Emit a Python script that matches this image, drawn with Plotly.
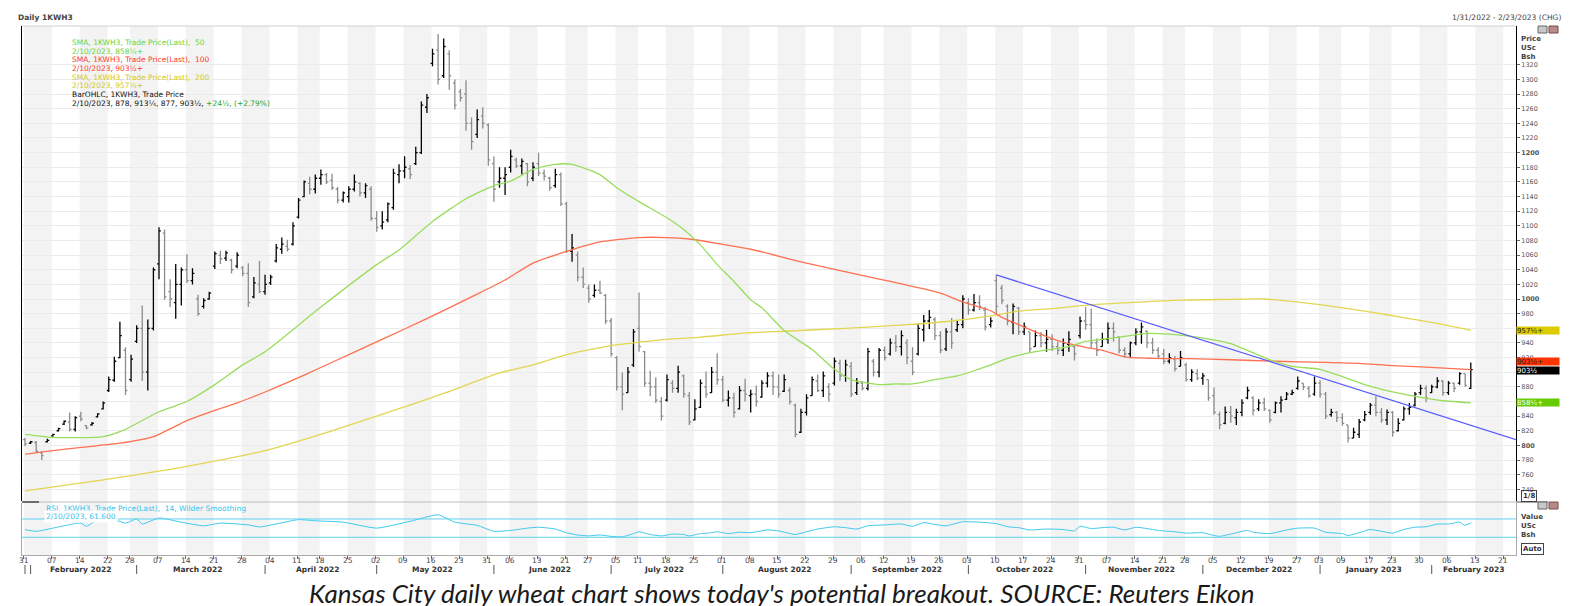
import numpy as np
import pandas as pd
import plotly.graph_objects as go

# ---- trading calendar (exchange holidays removed) ----
holidays = ["2022-02-21", "2022-04-15", "2022-05-30", "2022-06-20", "2022-07-04",
            "2022-09-05", "2022-11-24", "2022-12-26", "2023-01-02", "2023-01-16",
            "2023-02-20"]
days = pd.bdate_range("2022-01-31", "2023-02-28", freq="C", holidays=holidays)

# ---- daily OHLC, 1KWH3, 31 Jan 2022 .. 10 Feb 2023 (USc/bu) ----
opens = [
    808, 803, 804, 790, 805, 813, 820, 829, 832, 822,
    840, 827, 828, 839, 850, 875, 889, 920, 930, 890,
    942, 960, 900, 960, 1048, 1090, 1010, 995, 1020, 1040,
    1025, 1000, 990, 1000, 1045, 1060, 1056, 1053, 1045, 1043,
    1035, 1003, 1020, 1010, 1022, 1052, 1068, 1072, 1075, 1112,
    1140, 1158, 1150, 1165, 1170, 1162, 1150, 1135, 1140, 1150,
    1158, 1145, 1150, 1110, 1100, 1108, 1125, 1170, 1175, 1178,
    1185, 1200, 1262, 1322, 1340, 1305, 1335, 1295, 1283, 1280,
    1240, 1225, 1250, 1238, 1185, 1160, 1165, 1180, 1190, 1182,
    1185, 1165, 1185, 1172, 1165, 1155, 1170, 1130, 1065, 1060,
    1030, 1015, 1005, 1012, 1005, 970, 920, 880, 872, 910,
    960, 928, 885, 880, 860, 862, 885, 878, 895, 868,
    835, 852, 880, 872, 900, 890, 862, 865, 850, 875,
    868, 870, 866, 885, 895, 880, 874, 875, 855, 818,
    845, 868, 888, 875, 880, 885, 912, 895, 908, 872,
    885, 878, 915, 900, 930, 925, 940, 935, 940, 915,
    925, 958, 970, 972, 950, 932, 955, 958, 965, 995,
    985, 995, 985, 965, 1025, 1015, 990, 968, 988, 955,
    955, 935, 950, 940, 945, 935, 930, 938, 935, 950,
    970, 965, 940, 935, 945, 960, 948, 930, 925, 940,
    955, 956, 940, 930, 925, 915, 918, 908, 910, 890,
    898, 892, 890, 868, 842, 830, 845, 838, 845, 865,
    865, 850, 858, 848, 845, 858, 863, 870, 878, 885,
    878, 870, 885, 870, 842, 845, 838, 828, 810, 815,
    835, 845, 855, 845, 835, 845, 820, 835, 850, 855,
    872, 878, 872, 880, 888, 872, 885, 885, 898, 878,
]
highs = [
    810, 806, 806, 792, 809, 816, 824, 834, 845, 840,
    846, 828, 832, 844, 860, 894, 921, 969, 934, 924,
    964, 991, 972, 1043, 1098, 1095, 1027, 1048, 1043, 1061,
    1042, 1006, 1001, 1010, 1065, 1066, 1066, 1055, 1064, 1045,
    1049, 1030, 1052, 1033, 1033, 1075, 1084, 1081, 1105, 1138,
    1162, 1167, 1170, 1177, 1172, 1171, 1153, 1147, 1154, 1170,
    1160, 1158, 1154, 1120, 1120, 1132, 1178, 1184, 1195, 1183,
    1208, 1270, 1280, 1342, 1362, 1356, 1340, 1300, 1287, 1299,
    1248, 1259, 1262, 1240, 1195, 1180, 1180, 1204, 1193, 1192,
    1186, 1187, 1200, 1177, 1167, 1178, 1173, 1133, 1089, 1065,
    1043, 1020, 1020, 1025, 1007, 974, 922, 900, 907, 959,
    1009, 929, 902, 893, 866, 897, 889, 909, 897, 873,
    863, 890, 901, 907, 926, 895, 875, 872, 881, 891,
    876, 882, 889, 900, 901, 897, 897, 879, 857, 850,
    870, 894, 897, 901, 885, 920, 917, 917, 914, 892,
    888, 933, 918, 933, 935, 946, 951, 957, 945, 934,
    966, 978, 985, 975, 956, 960, 974, 970, 1005, 1001,
    1007, 1005, 989, 975, 1033, 1019, 993, 994, 989, 968,
    955, 957, 955, 958, 952, 942, 946, 956, 936, 976,
    989, 987, 946, 954, 968, 968, 949, 934, 942, 960,
    968, 957, 947, 934, 932, 926, 922, 929, 913, 904,
    904, 899, 890, 879, 846, 853, 854, 850, 863, 880,
    867, 863, 865, 849, 860, 867, 873, 876, 894, 885,
    881, 894, 889, 873, 850, 847, 844, 828, 824, 836,
    847, 858, 867, 851, 849, 847, 837, 853, 858, 873,
    883, 882, 883, 893, 889, 888, 886, 900, 898, 913.25,
]
lows = [
    799, 802, 790, 780, 804, 812, 819, 828, 819, 819,
    833, 822, 827, 838, 849, 873, 887, 919, 869, 887,
    940, 888, 875, 957, 1027, 999, 989, 973, 991, 1022,
    1020, 977, 987, 999, 1041, 1048, 1052, 1035, 1042, 1031,
    989, 1001, 1008, 1006, 1019, 1050, 1062, 1065, 1073, 1110,
    1139, 1143, 1144, 1156, 1157, 1149, 1131, 1132, 1132, 1147,
    1140, 1138, 1107, 1092, 1095, 1105, 1122, 1158, 1165, 1164,
    1183, 1198, 1254, 1318, 1293, 1302, 1286, 1259, 1270, 1230,
    1204, 1220, 1233, 1182, 1133, 1152, 1142, 1173, 1179, 1170,
    1154, 1161, 1168, 1162, 1148, 1152, 1127, 1063, 1051, 1024,
    1015, 995, 1002, 1007, 966, 921, 875, 848, 872, 907,
    928, 880, 867, 858, 834, 860, 872, 872, 865, 828,
    834, 851, 865, 872, 883, 859, 853, 838, 849, 860,
    845, 853, 865, 879, 869, 865, 873, 856, 811, 817,
    841, 868, 873, 866, 860, 882, 888, 887, 866, 869,
    875, 875, 894, 893, 916, 923, 928, 923, 911, 896,
    923, 942, 959, 944, 926, 929, 932, 955, 960, 978,
    983, 985, 957, 961, 979, 993, 964, 952, 951, 951,
    927, 935, 934, 928, 929, 924, 922, 928, 916, 946,
    958, 933, 922, 935, 939, 942, 926, 920, 919, 937,
    939, 933, 925, 918, 911, 912, 901, 908, 887, 887,
    889, 883, 861, 842, 822, 829, 831, 828, 840, 863,
    841, 847, 847, 831, 844, 845, 862, 869, 876, 876,
    865, 868, 865, 836, 839, 832, 827, 804, 810, 810,
    833, 842, 840, 831, 828, 812, 819, 834, 842, 853,
    869, 859, 872, 878, 868, 869, 873, 883, 880, 877,
]
closes = [
    802, 805, 792, 786, 807, 815, 823, 833, 822, 838,
    836, 824, 830, 843, 858, 890, 915, 950, 875, 918,
    960, 900, 960, 1040, 1093, 1003, 1000, 1020, 1040, 1025,
    1035, 980, 998, 1008, 1062, 1055, 1063, 1040, 1060, 1035,
    995, 1022, 1010, 1020, 1030, 1070, 1075, 1068, 1100, 1135,
    1160, 1150, 1165, 1170, 1160, 1152, 1135, 1145, 1150, 1160,
    1145, 1155, 1110, 1098, 1105, 1130, 1172, 1175, 1180, 1170,
    1200, 1265, 1275, 1335, 1300, 1345, 1305, 1265, 1275, 1240,
    1215, 1245, 1240, 1190, 1150, 1165, 1170, 1195, 1182, 1188,
    1160, 1180, 1172, 1168, 1152, 1170, 1130, 1065, 1070, 1030,
    1020, 1000, 1012, 1008, 970, 925, 880, 870, 900, 955,
    935, 885, 880, 862, 840, 890, 878, 900, 870, 832,
    850, 885, 870, 900, 890, 862, 865, 845, 875, 870,
    870, 860, 885, 895, 880, 870, 890, 860, 815, 845,
    865, 890, 875, 895, 870, 915, 895, 910, 870, 885,
    878, 928, 900, 930, 920, 940, 935, 950, 920, 900,
    960, 970, 975, 950, 930, 955, 940, 965, 1000, 985,
    995, 990, 962, 970, 990, 998, 970, 990, 955, 962,
    932, 950, 940, 945, 935, 930, 940, 945, 925, 970,
    965, 940, 930, 945, 960, 955, 930, 925, 940, 955,
    962, 940, 930, 922, 915, 920, 905, 920, 890, 900,
    892, 895, 865, 845, 828, 845, 840, 845, 858, 875,
    848, 858, 850, 835, 858, 862, 870, 872, 888, 880,
    868, 885, 870, 840, 845, 838, 830, 810, 818, 832,
    842, 855, 845, 835, 845, 818, 830, 850, 852, 870,
    878, 865, 880, 888, 872, 885, 878, 898, 882, 903.5,
]

# ---- moving averages as drawn (trading-day number, value) ----
sma50_day = [0, 5, 14, 18, 24, 29, 34, 39, 43, 53, 63, 67, 73, 79, 84, 87, 91, 95, 98,
             103, 106, 110, 115, 118, 121, 124, 127, 130, 132, 136, 141, 145, 148, 153,
             156, 159, 163, 167, 170, 173, 176, 181, 187, 190, 193, 197, 201, 205, 209,
             213, 216, 223, 227, 232, 236, 240, 245, 249, 254, 259]
sma50_val = [815, 811, 812, 822, 846, 860, 883, 910, 928, 989, 1047, 1067, 1106, 1137,
             1155, 1161, 1177, 1184, 1184, 1170, 1152, 1133, 1111, 1095, 1074, 1047, 1024,
             999, 988, 957, 931, 904, 890, 883, 884, 884, 890, 895, 902, 910, 919, 928,
             935, 942, 945, 949, 953, 952, 949, 944, 939, 917, 908, 904, 894, 883, 873,
             867, 861, 858.25]
sma100_day = [0, 5, 11, 17, 23, 29, 34, 38, 43, 50, 56, 62, 68, 76, 80, 86, 91, 97, 103,
              110, 115, 119, 124, 130, 140, 152, 164, 168, 173, 175, 178, 181, 184, 187,
              190, 193, 197, 202, 208, 216, 224, 233, 239, 245, 251, 259]
sma100_val = [788, 793, 798, 803, 812, 834, 848, 858, 873, 896, 917, 938, 959, 988, 1003,
              1026, 1049, 1065, 1078, 1084, 1084, 1082, 1076, 1068, 1049, 1029, 1008, 996,
              984, 975, 965, 955, 946, 939, 934, 930, 921, 919, 918.5, 917, 915, 913.5,
              912, 909, 907, 903.5]
sma200_day = [0, 14, 28, 43, 55, 65, 75, 85, 91, 97, 104, 110, 115, 121, 130, 136, 147,
              158, 166, 173, 178, 184, 191, 199, 207, 216, 222, 230, 237, 244, 252, 259]
sma200_val = [738, 753, 770, 793, 820, 845, 871, 899, 910, 924, 935, 941, 945, 948, 954,
              956, 960, 965, 970, 977, 983.5, 987, 992, 995.5, 998.5, 999.5, 1000, 994,
              987, 978.5, 968, 957.25]

# drawn trend line from the 10 Oct high to the right edge
trend_day = [174, 267.1]
trend_val = [1033, 808]

# ---- RSI(14, Wilder) as drawn ----
rsi_day = [0, 2, 5, 8, 10, 11, 14, 18, 20, 21, 24, 28, 32, 35, 40, 42, 49, 52, 57, 63,
           69, 74, 77, 81, 84, 87, 90, 92, 95, 97, 99, 101, 103, 105, 107, 109, 110, 112,
           114, 116, 118, 119, 121, 123, 124, 126, 128, 130, 133, 135, 138, 140, 142, 145,
           147, 149, 151, 154, 157, 159, 161, 163, 165, 168, 171, 174, 176, 178, 180, 183,
           186, 188, 189, 191, 193, 195, 197, 199, 201, 203, 206, 208, 211, 213, 214, 216,
           219, 220, 223, 226, 228, 231, 233, 236, 237, 239, 241, 243, 245, 247, 249, 251,
           253, 255, 257, 258, 259]
rsi_val = [46.6, 43, 50, 57.6, 61, 54, 76, 61, 70, 59, 72, 63, 55, 61, 57, 52.5, 68.5, 66,
           63, 50, 65, 79, 63, 56, 43, 45, 50, 52, 48, 40, 35, 33, 35, 32, 31, 38, 42, 36,
           33, 37, 36, 33, 38, 40, 42, 38, 41, 40, 46, 44, 36, 42, 48, 53, 51, 48, 55, 57,
           59, 54, 62, 58, 55, 64, 63, 60, 53, 51, 46, 48, 47, 44, 54, 49, 51, 52, 46, 52,
           49, 45, 42, 39, 40, 34, 32, 37, 45, 41, 38, 46, 50, 50, 41, 38, 34, 40, 47, 43,
           39, 47, 52, 53, 59, 59, 63, 56, 61.6]
rsi_levels = [70, 30]

price_ticks = list(range(740, 1321, 20))
bold_ticks = [800, 1000, 1200]
hidden_ticks = [960, 900, 860]   # covered by the value boxes

# ---------------------------------------------------------------------------
W, H = 1574, 606
L, R, T, B = 14, 66, 18, 59
PW, PH = W - L - R, H - T - B
X_RANGE = [-0.54, 267.1]


def px(x):
    return (x - L) / PW


def py(y):
    return (H - B - y) / PH


n = len(closes)
xi = np.arange(n)
cal = pd.DataFrame({"date": days, "i": np.arange(len(days))})
cal = cal[cal["i"] <= X_RANGE[1]]
week_first = cal.groupby(cal["date"].dt.to_period("W-SUN"))["i"].first().tolist()
month_grp = cal.groupby(cal["date"].dt.to_period("M"))

fig = go.Figure()

fig.add_trace(go.Ohlc(
    x=xi, open=opens, high=highs, low=lows, close=closes,
    increasing=dict(line=dict(color="#000000", width=1.3)),
    decreasing=dict(line=dict(color="#8c8c8c", width=1.3)),
    tickwidth=0.34, hoverinfo="skip", xaxis="x", yaxis="y",
))
for d, v, c in [(sma200_day, sma200_val, "#e2d650"),
                (sma100_day, sma100_val, "#ff7050"),
                (sma50_day, sma50_val, "#98de5c")]:
    fig.add_trace(go.Scatter(x=d, y=v, mode="lines", xaxis="x", yaxis="y",
                             line=dict(color=c, width=1.3, shape="spline", smoothing=0.6),
                             hoverinfo="skip"))
fig.add_trace(go.Scatter(x=trend_day, y=trend_val, mode="lines", xaxis="x", yaxis="y",
                         line=dict(color="#5a5cff", width=1.2), hoverinfo="skip"))
fig.add_trace(go.Scatter(x=rsi_day, y=rsi_val, mode="lines", xaxis="x", yaxis="y2",
                         line=dict(color="#3fc9ee", width=1, shape="spline", smoothing=0.5),
                         hoverinfo="skip"))

shapes = []
# alternating weekly bands
for k, s in enumerate(week_first):
    if k % 2 == 0:
        e = week_first[k + 1] if k + 1 < len(week_first) else X_RANGE[1] + 1
        shapes.append(dict(type="rect", xref="x", yref="paper", x0=s - 0.2, x1=e - 0.2,
                           y0=0, y1=1, fillcolor="#f3f3f3", line_width=0, layer="below"))
for lv in rsi_levels:
    shapes.append(dict(type="line", xref="paper", yref="y2", x0=0, x1=1, y0=lv, y1=lv,
                       line=dict(color="#5fd2f2", width=1)))
# panel frames
shapes += [
    dict(type="line", xref="paper", yref="paper", x0=0, x1=1, y0=1, y1=1,
         line=dict(color="#cfcfcf", width=1)),
    dict(type="line", xref="paper", yref="paper", x0=0, x1=1, y0=py(494), y1=py(494),
         line=dict(color="#bdbdbd", width=1)),
    dict(type="line", xref="paper", yref="paper", x0=0, x1=px(31), y0=py(494), y1=py(494),
         line=dict(color="#000000", width=1)),
    dict(type="line", xref="paper", yref="paper", x0=1, x1=px(1540), y0=py(494), y1=py(494),
         line=dict(color="#555555", width=1)),
]
# month separators below the day labels
for per, g in month_grp:
    shapes.append(dict(type="line", xref="x", yref="paper", x0=g["i"].iloc[0],
                       x1=g["i"].iloc[0], y0=py(557), y1=py(566),
                       line=dict(color="#555555", width=1)))
# window icons
for yy in (22, 498):
    shapes.append(dict(type="rect", xref="paper", yref="paper", x0=px(1530), x1=px(1539),
                       y0=py(yy - 4), y1=py(yy + 3), fillcolor="#c8c8c8",
                       line=dict(color="#666666", width=1)))
    shapes.append(dict(type="rect", xref="paper", yref="paper", x0=px(1541), x1=px(1550),
                       y0=py(yy - 4), y1=py(yy + 3), fillcolor="#b98a8a",
                       line=dict(color="#7a4a4a", width=1)))

ann = []


def text(x, y, s, size=7, color="#333333", anchor="left", **kw):
    ann.append(dict(xref="paper", yref="paper", x=px(x), y=py(y), text=s, showarrow=False,
                    xanchor=anchor, yanchor="middle", font=dict(size=size, color=color), **kw))


text(8, 9, "<b>Daily 1KWH3</b>", 7.5, "#444444")
text(1555, 9, "1/31/2022 - 2/23/2023 (CHG)", 7.5, "#444444", anchor="right")

GRN, RED, YEL, POS = "#6ad43a", "#ff3a2a", "#d6c820", "#2fa52f"
legend_lines = [
    ("SMA, 1KWH3, Trade Price(Last),  50", GRN),
    ("2/10/2023, 858\u00b9\u2044\u2084+", GRN),
    ("SMA, 1KWH3, Trade Price(Last),  100", RED),
    ("2/10/2023, 903\u00b9\u2044\u2082+", RED),
    ("SMA, 1KWH3, Trade Price(Last),  200", YEL),
    ("2/10/2023, 957\u00b9\u2044\u2084+", YEL),
    ("BarOHLC, 1KWH3, Trade Price", "#111111"),
    ("2/10/2023, 878, 913\u00b9\u2044\u2084, 877, 903\u00b9\u2044\u2082, "
     f"<span style='color:{POS}'>+24\u00b9\u2044\u2082, (+2.79%)</span>", "#111111"),
]
for k, (s, c) in enumerate(legend_lines):
    text(62, 34.3 + k * 8.7, s, 7.5, c)

text(36, 500, "RSI, 1KWH3, Trade Price(Last),  14, Wilder Smoothing", 7.5, "#35c3ea")
text(36, 508.5, "2/10/2023, 61.600", 7.5, "#35c3ea", bgcolor="white")

for k, s in enumerate(["Price", "USc", "Bsh"]):
    text(1511, 31 + k * 9, f"<b>{s}</b>", 7, "#444444")
for k, s in enumerate(["Value", "USc", "Bsh"]):
    text(1511, 509 + k * 9, f"<b>{s}</b>", 7, "#444444")
text(1513, 488, "<b>1/8</b>", 7, "#333333", bordercolor="#444444", borderwidth=1,
     borderpad=1)
text(1513, 541, "<b>Auto</b>", 7, "#333333", bordercolor="#444444", borderwidth=1,
     borderpad=1)

# value boxes on the price scale
for val, s, bg, fg, shift in [
        (sma200_val[-1], "957\u00b9\u2044\u2084+", "#dccb00", "#222222", 0),
        (sma100_val[-1], "903\u00b9\u2044\u2082+", "#ff3300", "#222222", 8),
        (closes[-1], "903\u00b9\u2044\u2082", "#000000", "#ffffff", -1),
        (sma50_val[-1], "858\u00b9\u2044\u2084+", "#66cc00", "#ffffff", 0)]:
    ann.append(dict(xref="paper", yref="y", x=1, y=val, yshift=shift, text=s,
                    showarrow=False, xanchor="left", yanchor="middle", align="left",
                    width=42, height=7, bgcolor=bg, borderpad=0,
                    font=dict(size=7, color=fg)))

# day-of-week-start labels
for w in week_first:
    ann.append(dict(xref="x", yref="paper", x=w - 0.2, y=py(552.5),
                    text=f"{days[w]:%d}", showarrow=False, yanchor="middle",
                    font=dict(size=7.5, color="#444444")))
# month labels
for per, g in month_grp:
    if len(g) < 3:
        continue
    ann.append(dict(xref="x", yref="paper", x=g["i"].mean(), y=py(561.5),
                    text=f"<b>{per.strftime('%B %Y')}</b>", showarrow=False,
                    yanchor="middle", font=dict(size=7.5, color="#333333")))

ann.append(dict(xref="paper", yref="paper", x=px(773), y=py(585), showarrow=False,
                text="<i>Kansas City daily wheat chart shows today's potential breakout. "
                     "SOURCE: Reuters Eikon</i>",
                xanchor="center", yanchor="middle",
                font=dict(family="Lato", size=26, color="#1a1a1a")))

fig.update_layout(
    width=W, height=H,
    margin=dict(l=L, r=R, t=T, b=B),
    paper_bgcolor="white", plot_bgcolor="white",
    showlegend=False,
    font=dict(family="DejaVu Sans", size=7, color="#444444"),
    shapes=shapes, annotations=ann,
    xaxis=dict(range=X_RANGE, anchor="y2", domain=[0, 1],
               tickmode="array", tickvals=[w - 0.2 for w in week_first],
               showticklabels=False,
               ticks="outside", ticklen=3, tickcolor="#666666",
               showgrid=False, zeroline=False, showline=True, linecolor="#aaaaaa",
               rangeslider=dict(visible=False)),
    yaxis=dict(domain=[0.102, 1], range=[724, 1373], side="right", anchor="x",
               tickmode="array", tickvals=price_ticks,
               ticktext=["" if v in hidden_ticks else
                         (f"<b>{v}</b>" if v in bold_ticks else str(v))
                         for v in price_ticks],
               ticks="outside", ticklen=3, tickcolor="#666666",
               tickfont=dict(size=6.5, color="#555555"),
               showgrid=True, gridcolor="#ebebeb", zeroline=False,
               showline=True, linecolor="#000000", mirror=True),
    yaxis2=dict(domain=[0, 0.098], range=[-8.7, 104.5], anchor="x",
                showticklabels=False, showgrid=False, zeroline=False,
                showline=True, linecolor="#aaaaaa", mirror=True),
)

fig.write_html("out.html")
